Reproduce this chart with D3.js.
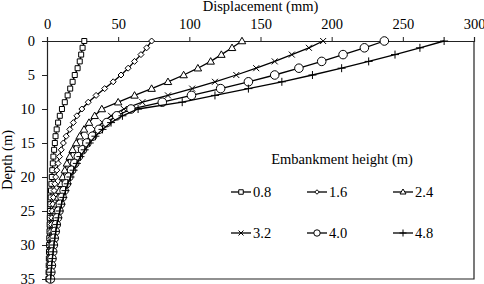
<!DOCTYPE html>
<html>
  <head>
    <meta charset="utf-8" />
    <title>Displacement vs depth</title>
    <script src="https://d3js.org/d3.v7.min.js"></script>
    <style>
      body { margin: 0; background: #fff; }
    </style>
  </head>
  <body>
    <svg id="viz"></svg>
    <script>
        // depth below ground (m), one value per metre
        var depths = d3.range(0, 36);

        var heights = ["0.8", "1.6", "2.4", "3.2", "4.0", "4.8"];
        var symbols = ["square", "diamond", "triangle", "cross", "circle", "plus"];

        // lateral displacement (mm) for each embankment height
        var disp08 = [26.2, 25, 24, 23, 21.5, 19.5, 18, 16.3, 14.5, 12.5, 10.5, 9, 7.8, 6.8, 6, 5.5, 5, 4.5, 4.1, 3.7, 3.4, 3.1, 2.8, 2.6, 2.4, 2.2, 2, 1.9, 1.8, 1.6, 1.5, 1.4, 1.3, 1.2, 1.1, 1.0];
        var disp16 = [73.5, 70, 66, 61.5, 57, 52, 46.5, 40.5, 34.5, 29, 24.5, 21, 18.5, 16, 13.5, 11.5, 10, 8.8, 7.8, 6.9, 6.1, 5.5, 5, 4.5, 4.1, 3.7, 3.4, 3.1, 2.8, 2.6, 2.4, 2.2, 2, 1.8, 1.7, 1.5];
        var disp24 = [137, 130, 122.5, 115, 106, 96, 85, 73.5, 61.5, 50, 38.5, 33.5, 29.5, 26, 23, 20.5, 18, 16, 14, 12.5, 11, 9.8, 8.7, 7.8, 7, 6.3, 5.7, 5.1, 4.6, 4.2, 3.8, 3.4, 3, 2.7, 2.4, 2.2];
        var disp32 = [194, 184, 172, 160, 147, 133, 118, 102, 85, 67, 54, 45, 39, 34, 30, 26.5, 23.5, 21, 18.5, 16.5, 14.5, 13, 11.5, 10.2, 9, 8, 7.1, 6.3, 5.6, 5, 4.4, 3.9, 3.4, 3, 2.6, 2.3];
        var disp40 = [237, 223, 208, 193, 177, 160, 141.5, 122, 101.5, 81, 59, 49, 42, 36.5, 32, 28, 25, 22, 19.5, 17.3, 15.3, 13.6, 12, 10.6, 9.4, 8.3, 7.3, 6.5, 5.8, 5.1, 4.5, 4, 3.5, 3.1, 2.7, 2.4];
        var disp48 = [279, 262, 244.5, 226, 207, 186.5, 165, 141.5, 118, 95, 64, 53, 45, 39, 34, 30, 26.5, 23.5, 21, 18.7, 16.5, 14.6, 13, 11.5, 10.2, 9, 8, 7, 6.2, 5.5, 4.9, 4.3, 3.8, 3.3, 2.9, 2.6];

        var xTicks = [0, 50, 100, 150, 200, 250, 300];
        var yTicks = [0, 5, 10, 15, 20, 25, 30, 35];

        var series = [disp08, disp16, disp24, disp32, disp40, disp48].map(function(vals, i) {
            return {
                name: heights[i],
                symbol: symbols[i],
                points: vals.map(function(v, j) { return {x: v, y: depths[j]}; })
            };
        });

        var FONT = "'Liberation Serif'";
        var width = 484, height = 284;
        var margin = {top: 41, right: 10, bottom: 5, left: 47};

        var svg = d3.select("#viz")
            .attr("width", width)
            .attr("height", height);

        var x = d3.scaleLinear().domain([0, 300]).range([margin.left, width - margin.right]);
        var y = d3.scaleLinear().domain([0, 35]).range([margin.top, height - margin.bottom]);

        // plot frame (right and bottom)
        svg.append("path")
            .attr("d", "M" + x(0) + "," + y(35) + "H" + x(300) + "V" + y(0))
            .attr("fill", "none")
            .attr("stroke", "#222")
            .attr("stroke-width", 1.2);

        var xAxis = svg.append("g")
            .attr("transform", "translate(0," + y(0) + ")")
            .call(d3.axisTop(x).tickValues(xTicks).tickSize(4).tickPadding(8));

        var yAxis = svg.append("g")
            .attr("transform", "translate(" + x(0) + ",0)")
            .call(d3.axisLeft(y).tickValues(yTicks).tickSize(5).tickPadding(7));

        [xAxis, yAxis].forEach(function(ax) {
            ax.attr("font-family", FONT).attr("font-size", 14.5);
            ax.select(".domain").attr("stroke", "#222").attr("stroke-width", 1.2);
            ax.selectAll(".tick line").attr("stroke", "#222");
            ax.selectAll("text").attr("fill", "#000");
        });

        function label(sel) {
            return sel.style("font-family", FONT).style("font-size", "14.5px");
        }

        svg.append("text")
            .attr("x", (x(0) + x(300)) / 2)
            .attr("y", 11)
            .attr("text-anchor", "middle")
            .call(label)
            .text("Displacement (mm)");

        svg.append("text")
            .attr("transform", "translate(12," + (y(0) + y(35)) / 2 + ") rotate(-90)")
            .attr("text-anchor", "middle")
            .call(label)
            .text("Depth (m)");

        function symbolPath(kind, s) {
            var h = s / 2;
            if (kind === "square") return "M" + -h + "," + -h + "h" + s + "v" + s + "h" + -s + "Z";
            if (kind === "diamond") return "M0," + -h + "L" + h + ",0L0," + h + "L" + -h + ",0Z";
            if (kind === "triangle") return "M0," + (-h - 0.5) + "L" + (h + 0.5) + "," + (h - 0.5) + "L" + (-h - 0.5) + "," + (h - 0.5) + "Z";
            if (kind === "cross") return "M" + -h + "," + -h + "L" + h + "," + h + "M" + h + "," + -h + "L" + -h + "," + h;
            if (kind === "plus") return "M0," + -h + "V" + h + "M" + -h + ",0H" + h;
            return d3.symbol(d3.symbolCircle, s * s * 0.9)();
        }
        var symbolSize = {square: 5, diamond: 6, triangle: 6.5, cross: 6, circle: 8, plus: 8};

        var line = d3.line()
            .x(function(d) { return x(d.x); })
            .y(function(d) { return y(d.y); });

        var plot = svg.append("g");

        series.forEach(function(s) {
            var g = plot.append("g");
            g.append("path")
                .attr("d", line(s.points))
                .attr("fill", "none")
                .attr("stroke", "#000")
                .attr("stroke-width", 1.3);
            g.selectAll("path.mk")
                .data(s.points)
                .enter().append("path")
                .attr("class", "mk")
                .attr("transform", function(d) { return "translate(" + x(d.x) + "," + y(d.y) + ")"; })
                .attr("d", symbolPath(s.symbol, symbolSize[s.symbol]))
                .attr("fill", "#fff")
                .attr("stroke", "#000")
                .attr("stroke-width", 1);
        });

        // legend
        var legend = svg.append("g");
        legend.append("text")
            .attr("x", 342)
            .attr("y", 164)
            .attr("text-anchor", "middle")
            .call(label)
            .text("Embankment height (m)");

        var colX = [231, 307, 393];
        var rowY = [192, 233];
        var legendSize = {square: 4.5, diamond: 4.5, triangle: 5, cross: 5, circle: 6, plus: 7};

        series.forEach(function(s, i) {
            var lx = colX[i % 3], ly = rowY[Math.floor(i / 3)];
            var item = legend.append("g").attr("transform", "translate(" + lx + "," + ly + ")");
            item.append("line")
                .attr("x1", 0).attr("x2", 20)
                .attr("stroke", "#000").attr("stroke-width", 1.3);
            item.append("path")
                .attr("transform", "translate(10,0)")
                .attr("d", symbolPath(s.symbol, legendSize[s.symbol]))
                .attr("fill", "#fff")
                .attr("stroke", "#000");
            item.append("text")
                .attr("x", 22)
                .attr("y", 5)
                .call(label)
                .text(s.name);
        });
    </script>
  </body>
</html>
